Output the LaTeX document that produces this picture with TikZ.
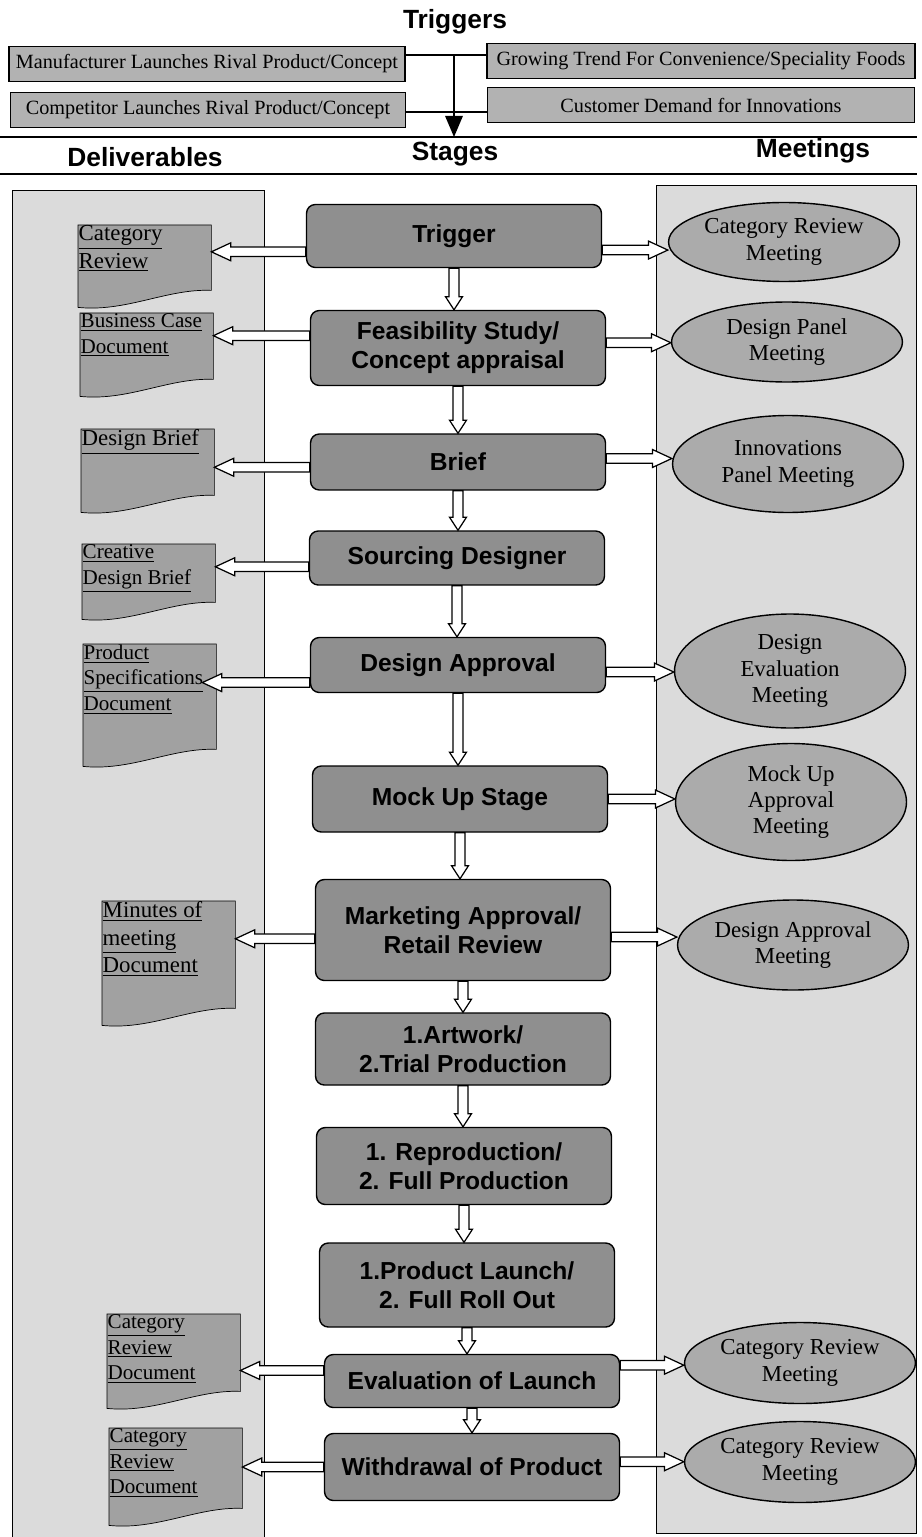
\documentclass[tikz,border=0pt]{standalone}
\usepackage{fontspec}
\setmainfont{Liberation Serif}
\setsansfont{Liberation Sans}
\usetikzlibrary{calc,shapes.geometric,arrows.meta,backgrounds}

\definecolor{stagegray}{gray}{0.56}
\definecolor{docgray}{gray}{0.63}
\definecolor{meetgray}{gray}{0.67}
\definecolor{triggray}{gray}{0.70}
\definecolor{panelgray}{gray}{0.86}

\tikzset{
  head/.style={font=\sffamily\bfseries\fontsize{15}{18}\selectfont},
  trig/.style={rectangle, draw=black, fill=triggray, minimum height=0.7cm, inner sep=1pt, font=\fontsize{11.5}{13}\selectfont},
  stage/.style={rectangle, rounded corners=5pt, draw=black, fill=stagegray, minimum width=5.9cm, align=center, font=\sffamily\bfseries\fontsize{14}{16.5}\selectfont},
  meet/.style={ellipse, draw=black, fill=meetgray, minimum width=4.62cm, inner sep=0pt, align=center, font=\fontsize{13}{15}\selectfont},
  deliv/.style={anchor=north west, inner sep=0pt, font=\fontsize{12}{14.5}\selectfont},
  bigdeliv/.style={deliv, font=\fontsize{13}{15.5}\selectfont},
  docline/.style={draw=black, fill=docgray},
  panel/.style={draw=black, fill=panelgray},
  hollowarrow/.style={draw=black, fill=white, line width=0.7pt},
  rule/.style={line width=1pt}
}

% text block of a deliverable, height #1
\newcommand{\doctext}[2]{\parbox[t][#1][t]{2.64cm}{\raggedright #2}}
% outline of a deliverable (wavy bottom)
\newcommand{\docoutline}[1]{%
  \draw[docline] (#1.north west) -- (#1.north east) -- (#1.south east)
    .. controls ($(#1.south east)+(-44,-2)$) and ($(#1.south west)+(48,22)$) .. ($(#1.south west)+(0,17)$) -- cycle;}
% hollow horizontal arrow, tail #1, tip #2
\newcommand{\hblock}[2]{%
  \draw[hollowarrow] let \p1=(#1), \p2=(#2), \n1={11*(\x2-\x1)/abs(\x2-\x1)} in
    (\x1,\y1+2.7pt) -- ({\x2-(\n1)*1pt},\y1+2.7pt) -- ({\x2-(\n1)*1pt},\y1+5.1pt) -- (\x2,\y1)
    -- ({\x2-(\n1)*1pt},\y1-5.1pt) -- ({\x2-(\n1)*1pt},\y1-2.7pt) -- (\x1,\y1-2.7pt) -- cycle;}
% hollow arrow downwards, tail #1, tip #2
\newcommand{\vblock}[2]{%
  \draw[hollowarrow] let \p1=(#1), \p2=(#2) in
    (\x1-2.8pt,\y1) -- (\x1-2.8pt,\y2+7.4pt) -- (\x1-4.8pt,\y2+7.4pt) -- (\x1,\y2)
    -- (\x1+4.8pt,\y2+7.4pt) -- (\x1+2.8pt,\y2+7.4pt) -- (\x1+2.8pt,\y1) -- cycle;}

\begin{document}
\begin{tikzpicture}[x=0.02cm, y=-0.02cm, line width=0.8pt]
\useasboundingbox (0,0) rectangle (921,1537);

% triggers
\node[head] (ttl) at (455,22) {Triggers};
\node[trig, minimum width=7.92cm] (tA) at (207,64) {Manufacturer Launches Rival Product/Concept};
\node[trig, minimum width=8.56cm] (tB) at (701,61) {Growing Trend For Convenience/Speciality Foods};
\node[trig, minimum width=7.9cm] (tC) at (208,110) {Competitor Launches Rival Product/Concept};
\node[trig, minimum width=8.54cm] (tD) at (701,105) {Customer Demand for Innovations};
\coordinate (j1) at (454,55);
\coordinate (j2) at (454,112);
\coordinate (jend) at (454,137);
\draw (tA.east |- j1) -- (tB.west |- j1);
\draw (tC.east |- j2) -- (tD.west |- j2);
\draw[-{Triangle[length=12pt,width=10pt]}] (j1) -- (jend);

\draw[rule] (0,137) -- (917,137);
\draw[rule] (0,174) -- (917,174);
\node[head] (hD) at (145,157) {Deliverables};
\node[head] (hS) at (455,154) {Stages};
\node[head] (hM) at (813,151) {Meetings};

% stages
\node[stage, minimum height=1.26cm] (s1) at (454,236) {Trigger};
\node[stage, minimum height=1.5cm] (s2) at (458,348) {Feasibility Study/\\Concept appraisal};
\node[stage, minimum height=1.12cm] (s3) at (458,462) {Brief};
\node[stage, minimum height=1.08cm] (s4) at (457,558) {Sourcing Designer};
\node[stage, minimum height=1.1cm] (s5) at (458,665) {Design Approval};
\node[stage, minimum height=1.32cm] (s6) at (460,799) {Mock Up Stage};
\node[stage, minimum height=2.02cm] (s7) at (463,930) {Marketing Approval/\\Retail Review};
\node[stage, minimum height=1.44cm] (s8) at (463,1049) {1.Artwork/\\2.Trial Production};
\node[stage, minimum height=1.54cm] (s9) at (464,1166) {1. Reproduction/\\2. Full Production};
\node[stage, minimum height=1.68cm] (s10) at (467,1285) {1.Product Launch/\\2. Full Roll Out};
\node[stage, minimum height=1.06cm] (s11) at (472,1381) {Evaluation of Launch};
\node[stage, minimum height=1.34cm] (s12) at (472,1467) {Withdrawal of Product};

% deliverables
\node[bigdeliv] (dA) at (78,225) {\doctext{1.28cm}{\underline{Category}\\\underline{Review}}};
\node[deliv] (dB) at (80,313) {\doctext{1.3cm}{\underline{Business Case}\\\underline{Document}}};
\node[bigdeliv] (dC) at (81,429) {\doctext{1.3cm}{\underline{Design Brief}}};
\node[deliv] (dD) at (82,544) {\doctext{1.14cm}{\underline{Creative}\\\underline{Design Brief}}};
\node[deliv] (dE) at (83,644) {\doctext{2.08cm}{\underline{Product}\\\underline{Specifications}\\\underline{Document}}};
\node[bigdeliv] (dF) at (102,901) {\doctext{2.12cm}{\underline{Minutes of}\\\underline{meeting}\\\underline{Document}}};
\node[deliv] (dG) at (107,1314) {\doctext{1.52cm}{\underline{Category}\\\underline{Review}\\\underline{Document}}};
\node[deliv] (dH) at (109,1428) {\doctext{1.58cm}{\underline{Category}\\\underline{Review}\\\underline{Document}}};

% meetings
\node[meet, minimum height=1.58cm] (m1) at (784,242) {Category Review\\Meeting};
\node[meet, minimum height=1.6cm] (m2) at (787,342) {Design Panel\\Meeting};
\node[meet, minimum height=1.94cm] (m3) at (788,464) {Innovations\\Panel Meeting};
\node[meet, minimum height=2.28cm] (m4) at (790,671) {Design\\Evaluation\\Meeting};
\node[meet, minimum height=2.34cm] (m5) at (791,802) {Mock Up\\Approval\\Meeting};
\node[meet, minimum height=1.8cm] (m6) at (793,945) {Design Approval\\Meeting};
\node[meet, minimum height=1.62cm] (m7) at (800,1363) {Category Review\\Meeting};
\node[meet, minimum height=1.62cm] (m8) at (800,1462) {Category Review\\Meeting};

% stage to stage
\vblock{s1.south}{s2.north}
\vblock{s2.south}{s3.north}
\vblock{s3.south}{s4.north}
\vblock{s4.south}{s5.north}
\vblock{s5.south}{s6.north}
\vblock{s6.south}{s7.north}
\vblock{s7.south}{s8.north}
\vblock{s8.south}{s9.north}
\vblock{s9.south}{s10.north}
\vblock{s10.south}{s11.north}
\vblock{s11.south}{s12.north}

% to deliverables
\hblock{[yshift=-9pt]s1.west}{dA.east}
\hblock{[yshift=7pt]s2.west}{dB.east}
\hblock{[yshift=-3pt]s3.west}{dC.east}
\hblock{[yshift=-5pt]s4.west}{dD.east}
\hblock{[yshift=-10pt]s5.west}{[xshift=-8pt]dE.east}
\hblock{[yshift=-5pt]s7.west}{dF.east}
\hblock{[yshift=6pt]s11.west}{dG.east}
\hblock{s12.west}{dH.east}

% to meetings
\hblock{[yshift=-8pt]s1.east}{m1.west}
\hblock{[yshift=3pt]s2.east}{m2.west}
\hblock{[yshift=2pt]s3.east}{m3.west}
\hblock{[yshift=-4pt]s5.east}{m4.west}
\hblock{s6.east}{m5.west}
\hblock{[yshift=-4pt]s7.east}{m6.west}
\hblock{[yshift=9pt]s11.east}{m7.west}
\hblock{[yshift=3pt]s12.east}{m8.west}

\begin{scope}[on background layer]
\fill[white] (0,0) rectangle (921,1537);
\draw[panel] (12,190) rectangle (264,1560);
\draw[panel] (656,185) rectangle (916,1533);
\foreach \d in {dA,dB,dC,dD,dE,dF,dG,dH} {\docoutline{\d}}
\end{scope}
\end{tikzpicture}
\end{document}
